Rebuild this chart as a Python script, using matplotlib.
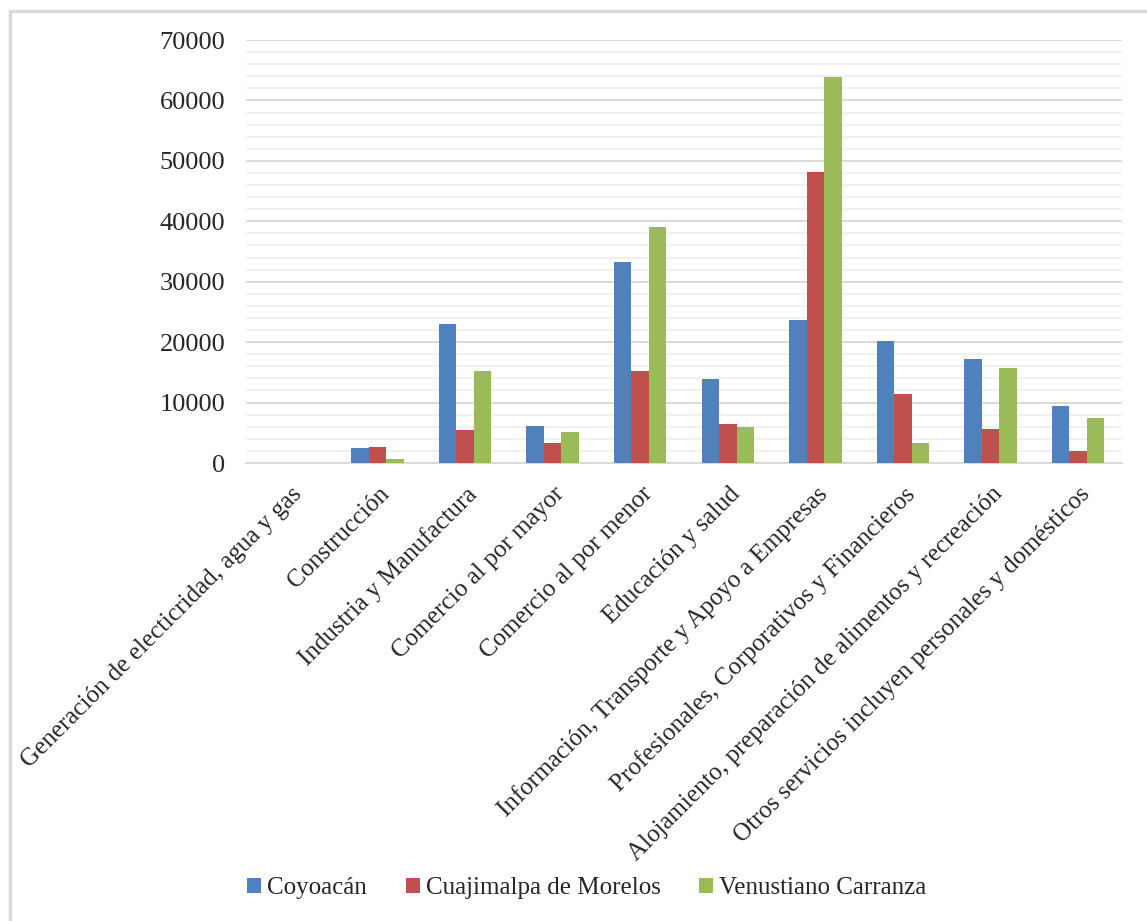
import numpy as np
import matplotlib
matplotlib.use('Agg')
import matplotlib.pyplot as plt
from matplotlib.patches import Rectangle

plt.rcParams['font.family'] = ['Liberation Serif', 'DejaVu Serif']

categorias = [
    'Generación de electicridad, agua y gas',
    'Construcción',
    'Industria y Manufactura',
    'Comercio al por mayor',
    'Comercio al por menor',
    'Educación y salud',
    'Información, Transporte y Apoyo a Empresas',
    'Profesionales, Corporativos y Financieros',
    'Alojamiento, preparación de alimentos y recreación',
    'Otros servicios incluyen personales y domésticos',
]
coyoacan = [0, 2400, 23000, 6200, 33300, 13900, 23600, 20200, 17200, 9400]
cuajimalpa = [0, 2700, 5500, 3300, 15300, 6500, 48100, 11500, 5600, 2000]
venustiano = [0, 700, 15300, 5200, 39000, 6000, 63800, 3300, 15800, 7500]
series = ['Coyoacán', 'Cuajimalpa de Morelos', 'Venustiano Carranza']
colores = ['#4F81BD', '#C0504D', '#9BBB59']

fig = plt.figure(figsize=(11.47, 9.21), dpi=100)
ax = fig.add_axes([246 / 1147, 1 - 463 / 921, (1122 - 246) / 1147, (463 - 40) / 921])

x = np.arange(len(categorias))
ancho = 0.2
for i, (valores, nombre, color) in enumerate(zip([coyoacan, cuajimalpa, venustiano], series, colores)):
    ax.bar(x + (i - 1) * ancho, valores, ancho, color=color, label=nombre, zorder=3)

ax.set_xlim(-0.5, len(categorias) - 0.5)
ax.set_ylim(0, 70000)
ax.set_yticks(np.arange(0, 70001, 10000))
ax.set_yticks(np.arange(0, 70001, 2000), minor=True)
ax.grid(axis='y', which='major', color='#d9d9d9', linewidth=1.4, zorder=0)
ax.grid(axis='y', which='minor', color='#f0f0f0', linewidth=1.4, zorder=0)
ax.tick_params(axis='y', which='both', length=0, labelsize=19, pad=15, colors='#262626')
ax.tick_params(axis='x', length=0, pad=20)
for lado in ['top', 'right', 'left']:
    ax.spines[lado].set_visible(False)
ax.spines['bottom'].set_color('#d9d9d9')
ax.spines['bottom'].set_linewidth(1.4)

ax.set_xticks(x + 0.1)
ax.set_xticklabels(categorias, rotation=45, ha='right', va='center', rotation_mode='anchor',
                   fontsize=18, color='#262626')

fig.legend(loc='center', bbox_to_anchor=(587 / 1147, 1 - 888 / 921), ncol=3, frameon=False,
           fontsize=18, handlelength=0.55, handleheight=0.55, handletextpad=0.25, columnspacing=1.55,
           labelcolor='#262626')

fig.patches.append(Rectangle((10 / 1147, -0.1), 1.2, 1 - 11 / 921 + 0.1, transform=fig.transFigure,
                             fill=False, edgecolor='#d9d9d9', linewidth=2.5))

fig.savefig('out.png', dpi=100)
